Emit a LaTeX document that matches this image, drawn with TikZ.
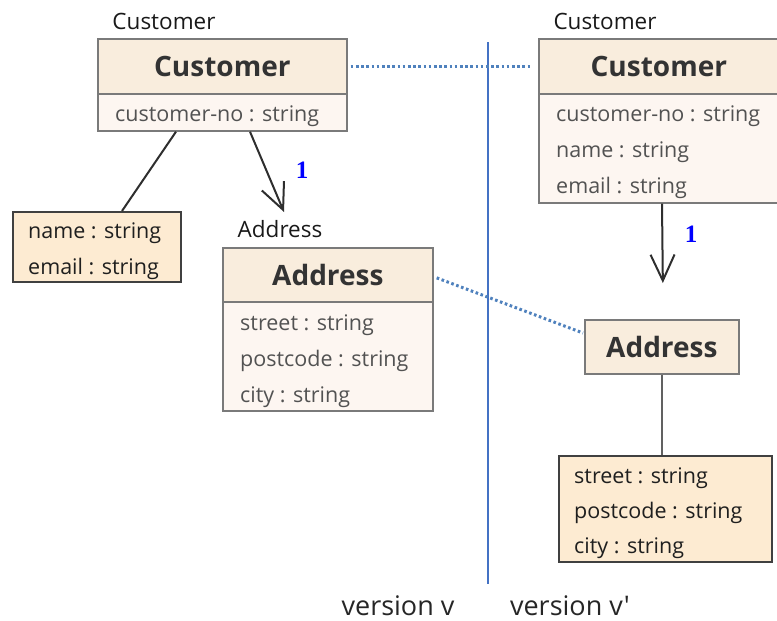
\documentclass[tikz,border=0pt]{standalone}
\usepackage{fontspec}
\newfontfamily\uifont{Open Sans}
\newfontfamily\multfont{Liberation Serif}
\usetikzlibrary{arrows.meta,calc}
\definecolor{hdr}{HTML}{F9EDDD}
\definecolor{bdy}{HTML}{FDF6F1}
\definecolor{attrfill}{HTML}{FDEBD2}
\definecolor{bord}{HTML}{7A7A7A}
\definecolor{dotblue}{HTML}{4F81BD}
\definecolor{sepblue}{HTML}{4472C4}
\begin{document}
\begin{tikzpicture}[x=1pt,y=-1pt,
  font=\uifont\fontsize{21.5}{25}\selectfont,
  hdrbox/.style={draw=bord, line width=1.7pt, fill=hdr, inner sep=0pt, anchor=north west,
    font=\uifont\bfseries\fontsize{28}{32}\selectfont, text=black!80},
  bodybox/.style={draw=bord, line width=1.7pt, fill=bdy, inner sep=0pt, anchor=north west},
  attrbox/.style={draw=black!75, line width=2pt, fill=attrfill, inner sep=0pt, anchor=north west},
  rowtext/.style={anchor=base west, inner sep=0pt, text=black!68},
  rowdark/.style={anchor=base west, inner sep=0pt, text=black!88},
  caption/.style={anchor=base, inner sep=0pt, text=black!90, font=\uifont\fontsize{22.5}{26}\selectfont},
  vcaption/.style={anchor=base, inner sep=0pt, text=black!85, font=\uifont\fontsize{27}{30}\selectfont},
  conn/.style={draw=black!82, line width=2pt},
  arr/.style={conn, -{Straight Barb[length=26pt,width=24pt,line width=2pt]}},
  mult/.style={inner sep=0pt, text=blue, font=\multfont\bfseries\fontsize{25}{27}\selectfont},
  trace/.style={draw=dotblue, line width=3pt, dash pattern=on 2.6pt off 2.6pt},
  sepline/.style={draw=sepblue, line width=1.4pt}]
\useasboundingbox (0,0) rectangle (777,621);

% ---- left side: version v
\node[caption] (c1lab) at (164,30) {Customer};
\node[hdrbox, minimum width=249pt, minimum height=55pt] (c1h) at (97,38) {Customer};
\node[bodybox, minimum width=249pt, minimum height=37pt] (c1b) at (97,93) {};
\node[rowtext] (c1r1) at (115,121) {customer-no : string};

\node[attrbox, minimum width=168pt, minimum height=70pt] (ne) at (12,211) {};
\node[rowdark] (ne1) at (28,238) {name : string};
\node[rowdark] (ne2) at (28,274) {email : string};

\node[caption] (a1lab) at (280,237) {Address};
\node[hdrbox, minimum width=210pt, minimum height=54pt] (a1h) at (222,247) {Address};
\node[bodybox, minimum width=210pt, minimum height=109pt] (a1b) at (222,301) {};
\node[rowtext] (a1r1) at (240,330) {street : string};
\node[rowtext] (a1r2) at (240,366) {postcode : string};
\node[rowtext] (a1r3) at (240,402) {city : string};

\draw[conn] ($(c1b.south west)+(79,0)$) -- ($(ne.north west)+(110,0)$);
\coordinate (a1tip) at (284,212);
\draw[arr] ($(c1b.south west)+(153,0)$) -- (a1tip);
\node[mult] (m1) at (302,170) {1};

% ---- separator
\draw[sepline] (488,42) -- (488,584);

% ---- right side: version v'
\node[caption] (c2lab) at (605,30) {Customer};
\node[hdrbox, minimum width=240pt, minimum height=55pt] (c2h) at (538,38) {Customer};
\node[bodybox, minimum width=240pt, minimum height=109pt] (c2b) at (538,93) {};
\node[rowtext] (c2r1) at (556,121) {customer-no : string};
\node[rowtext] (c2r2) at (556,157) {name : string};
\node[rowtext] (c2r3) at (556,193) {email : string};

\node[hdrbox, minimum width=154pt, minimum height=54pt] (a2h) at (584,319) {Address};
\node[attrbox, minimum width=213pt, minimum height=106pt] (ra) at (558,455) {};
\node[rowdark] (ra1) at (574,483) {street : string};
\node[rowdark] (ra2) at (574,518) {postcode : string};
\node[rowdark] (ra3) at (574,553) {city : string};

\draw[arr] ($(c2b.south west)+(124,0)$) -- ($(a2h.north)+(1,-36)$);
\node[mult] (m2) at (691,234) {1};
\draw[conn, draw=black!62, line width=2.4pt] (a2h.south) -- (a2h.south |- ra.north);

% ---- traces between versions
\draw[trace] ($(c1h.east)+(3,0)$) -- ($(c2h.west)+(-8,0)$);
\draw[trace] ($(a1h.east)+(3,3)$) -- ($(a2h.north west)+(-1,14)$);

% ---- captions
\node[vcaption] (vv) at (398,615) {version v};
\node[vcaption] (vv2) at (570,615) {version v'};
\end{tikzpicture}
\end{document}
